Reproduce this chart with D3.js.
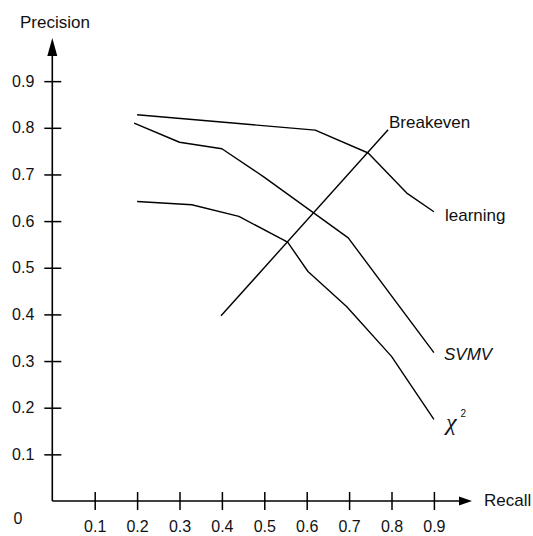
<!DOCTYPE html>
<html>
<head>
<meta charset="utf-8">
<script src="https://cdn.jsdelivr.net/npm/d3@7"></script>
<style>
  body { margin: 0; background: #fff; }
  svg text { font-family: "Liberation Sans", Arial, sans-serif; fill: #111; }
</style>
</head>
<body>
<div id="chart"></div>
<script>
// tick values on both axes
const xTicks = [0.1, 0.2, 0.3, 0.4, 0.5, 0.6, 0.7, 0.8, 0.9];
const yTicks = [0.1, 0.2, 0.3, 0.4, 0.5, 0.6, 0.7, 0.8, 0.9];

// curves (recall, precision)
const learningRecall    = [0.20, 0.62, 0.745, 0.836, 0.90];
const learningPrecision = [0.828, 0.795, 0.746, 0.660, 0.620];

const svmvRecall    = [0.193, 0.30, 0.40, 0.497, 0.698, 0.90];
const svmvPrecision = [0.810, 0.769, 0.755, 0.696, 0.564, 0.318];

const chiRecall    = [0.20, 0.329, 0.44, 0.555, 0.603, 0.694, 0.80, 0.90];
const chiPrecision = [0.642, 0.635, 0.610, 0.555, 0.492, 0.417, 0.310, 0.175];

const breakevenRecall    = [0.398, 0.792];
const breakevenPrecision = [0.397, 0.796];

const width = 533, height = 536;

const svg = d3.select("#chart")
    .append("svg")
    .attr("width", width)
    .attr("height", height);

const x = d3.scaleLinear().domain([0, 1]).range([52.3, 476.3]);
const y = d3.scaleLinear().domain([0, 1]).range([501, 34.5]);

// x axis
const xAxis = svg.append("g")
    .attr("transform", `translate(0,${y(0)})`)
    .call(d3.axisBottom(x).tickValues(xTicks).tickSize(9).tickFormat(d3.format(".1f")));
xAxis.select(".domain").remove();
xAxis.selectAll(".tick line")
    .attr("y1", -9).attr("y2", 9)
    .attr("stroke", "#000").attr("stroke-width", 1.5);
xAxis.selectAll(".tick text")
    .attr("y", 31)
    .attr("dy", 0)
    .style("font-size", "16px")
    .style("font-family", "Liberation Sans, Arial, sans-serif")
    .attr("fill", "#111");

// y axis
const yAxis = svg.append("g")
    .attr("transform", `translate(${x(0)},0)`)
    .call(d3.axisLeft(y).tickValues(yTicks).tickSize(8).tickFormat(d3.format(".1f")));
yAxis.select(".domain").remove();
yAxis.selectAll(".tick line")
    .attr("x1", -8).attr("x2", 9)
    .attr("stroke", "#000").attr("stroke-width", 1.5);
yAxis.selectAll(".tick text")
    .attr("x", -18)
    .style("font-size", "16px")
    .style("font-family", "Liberation Sans, Arial, sans-serif")
    .attr("fill", "#111");

// axis lines with arrow heads
svg.append("line")
    .attr("x1", x(0)).attr("x2", 460)
    .attr("y1", y(0)).attr("y2", y(0))
    .attr("stroke", "#000").attr("stroke-width", 1.6);
svg.append("path")
    .attr("d", `M459,${y(0) - 4.5}L472,${y(0)}L459,${y(0) + 4.5}Z`)
    .attr("fill", "#000");

svg.append("line")
    .attr("x1", x(0)).attr("x2", x(0))
    .attr("y1", y(0)).attr("y2", 54)
    .attr("stroke", "#000").attr("stroke-width", 1.6);
svg.append("path")
    .attr("d", `M${x(0) - 5},56L${x(0)},38L${x(0) + 5},56Z`)
    .attr("fill", "#000");

// axis titles and origin
svg.append("text")
    .attr("x", 55).attr("y", 28)
    .attr("text-anchor", "middle")
    .style("font-size", "17px")
    .text("Precision");

svg.append("text")
    .attr("x", 484).attr("y", 506)
    .style("font-size", "17px")
    .text("Recall");

svg.append("text")
    .attr("x", 18).attr("y", 524)
    .attr("text-anchor", "middle")
    .style("font-size", "16px")
    .text("0");

// curves
const line = d3.line()
    .x(d => x(d[0]))
    .y(d => y(d[1]));

const curves = [
    d3.zip(learningRecall, learningPrecision),
    d3.zip(svmvRecall, svmvPrecision),
    d3.zip(chiRecall, chiPrecision),
    d3.zip(breakevenRecall, breakevenPrecision)
];

svg.selectAll("path.curve")
    .data(curves)
    .join("path")
    .attr("class", "curve")
    .attr("d", line)
    .attr("fill", "none")
    .attr("stroke", "#000")
    .attr("stroke-width", 1.4)
    .attr("stroke-linejoin", "round");

// curve labels
svg.append("text")
    .attr("x", 389).attr("y", 128)
    .style("font-size", "17px")
    .text("Breakeven");

svg.append("text")
    .attr("x", 445).attr("y", 221)
    .style("font-size", "17px")
    .text("learning");

svg.append("text")
    .attr("x", 444).attr("y", 360)
    .style("font-size", "17px")
    .style("font-style", "italic")
    .text("SVMV");

const chi = svg.append("text")
    .attr("x", 446).attr("y", 430);
chi.append("tspan")
    .style("font-family", "Liberation Serif, serif")
    .style("font-style", "italic")
    .style("font-size", "24px")
    .text("χ");
chi.append("tspan")
    .attr("dx", 4).attr("dy", -13)
    .style("font-size", "10px")
    .text("2");
</script>
</body>
</html>
